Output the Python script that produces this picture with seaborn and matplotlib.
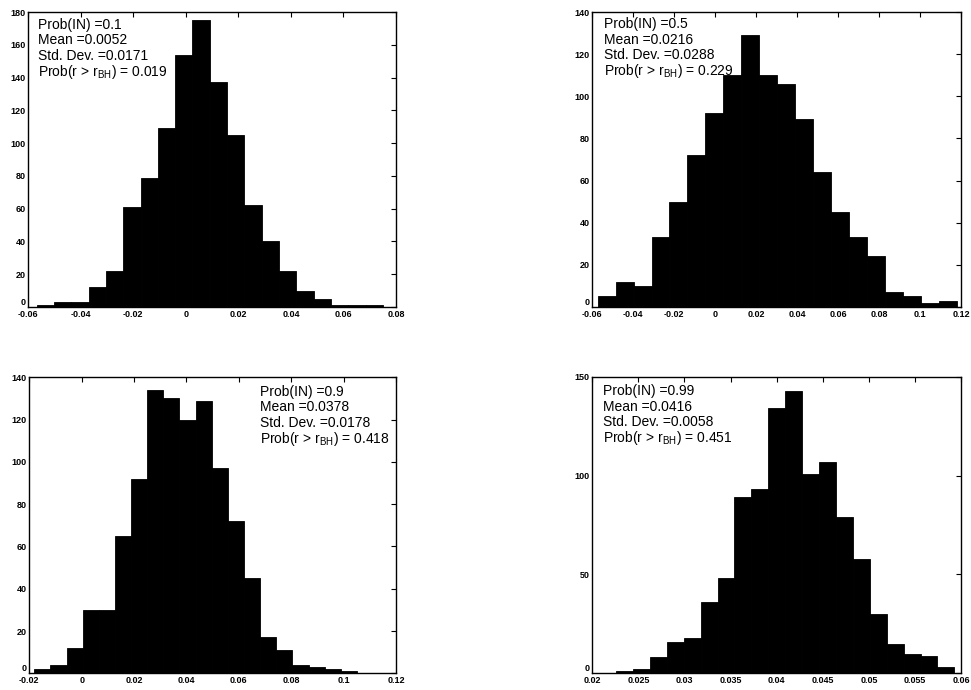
import numpy as np
import pandas as pd
import matplotlib
matplotlib.use("Agg")
import matplotlib.pyplot as plt
import matplotlib.transforms as mtransforms
import seaborn as sns

# Bootstrap distributions of r for four values of Prob(IN): 20 bins each
prob_in = ["0.1", "0.5", "0.9", "0.99"]
means = ["0.0052", "0.0216", "0.0378", "0.0416"]
std_devs = ["0.0171", "0.0288", "0.0178", "0.0058"]
prob_gt_bh = ["0.019", "0.229", "0.418", "0.451"]

# (first edge, last edge) of the histogram bins
bin_ranges = [
    (-0.0568, 0.0750),
    (-0.0574, 0.1180),
    (-0.0181, 0.1051),
    (0.02257, 0.05928),
]

counts_p01 = [1, 3, 3, 12, 22, 61, 79, 109, 154, 175,
              137, 105, 62, 40, 22, 10, 5, 1, 1, 1]
counts_p05 = [5, 12, 10, 33, 50, 72, 92, 110, 129, 110,
              106, 89, 64, 45, 33, 24, 7, 5, 2, 3]
counts_p09 = [2, 4, 12, 30, 30, 65, 92, 134, 130, 120,
              129, 97, 72, 45, 17, 11, 4, 3, 2, 1]
counts_p099 = [1, 2, 8, 16, 18, 36, 48, 89, 93, 134,
               143, 101, 107, 79, 58, 30, 15, 10, 9, 3]
all_counts = [counts_p01, counts_p05, counts_p09, counts_p099]

x_ticks = [
    [-0.06, -0.04, -0.02, 0, 0.02, 0.04, 0.06, 0.08],
    [-0.06, -0.04, -0.02, 0, 0.02, 0.04, 0.06, 0.08, 0.1, 0.12],
    [-0.02, 0, 0.02, 0.04, 0.06, 0.08, 0.1, 0.12],
    [0.02, 0.025, 0.03, 0.035, 0.04, 0.045, 0.05, 0.055, 0.06],
]
x_ticklabels = [
    ["-0.06", "-0.04", "-0.02", "0", "0.02", "0.04", "0.06", "0.08"],
    ["-0.06", "-0.04", "-0.02", "0", "0.02", "0.04", "0.06", "0.08", "0.1", "0.12"],
    ["-0.02", "0", "0.02", "0.04", "0.06", "0.08", "0.1", "0.12"],
    ["0.02", "0.025", "0.03", "0.035", "0.04", "0.045", "0.05", "0.055", "0.06"],
]
y_ticks = [
    [0, 20, 40, 60, 80, 100, 120, 140, 160, 180],
    [0, 20, 40, 60, 80, 100, 120, 140],
    [0, 20, 40, 60, 80, 100, 120, 140],
    [0, 50, 100, 150],
]

sns.set_theme(style="white")
plt.rcParams["font.family"] = ["Liberation Sans", "DejaVu Sans"]
plt.rcParams["mathtext.fontset"] = "custom"
plt.rcParams["mathtext.rm"] = "Liberation Sans"
plt.rcParams["mathtext.it"] = "Liberation Sans"

fig = plt.figure(figsize=(9.71, 6.90), dpi=100)
W, H = 971.0, 690.0
# axes boxes in pixels: left, top, right, bottom
boxes = [
    (28.3, 12.0, 396.0, 307.0),
    (592.3, 12.0, 961.0, 307.0),
    (29.3, 377.3, 396.0, 673.3),
    (592.3, 376.7, 961.0, 673.3),
]
# anchor of the first text line's baseline, in axes fractions
text_pos = [(0.027, 0.943), (0.032, 0.945), (0.629, 0.938), (0.029, 0.938)]
line_offsets_px = [0, 15.5, 31, 47]

for i in range(4):
    l, t, r, b = boxes[i]
    ax = fig.add_axes([l / W, 1 - b / H, (r - l) / W, (b - t) / H])
    lo, hi = bin_ranges[i]
    edges = np.linspace(lo, hi, len(all_counts[i]) + 1)
    df = pd.DataFrame({
        "r": 0.5 * (edges[:-1] + edges[1:]),
        "n": np.asarray(all_counts[i], dtype=float),
    })
    sns.histplot(data=df, x="r", weights="n", bins=list(edges), ax=ax,
                 color="black", alpha=1.0, edgecolor="black", linewidth=0.6)
    ax.set_xlim(x_ticks[i][0], x_ticks[i][-1])
    ax.set_ylim(y_ticks[i][0], y_ticks[i][-1])
    ax.set_xticks(x_ticks[i])
    ax.set_xticklabels(x_ticklabels[i])
    ax.set_yticks(y_ticks[i])
    ax.set_yticklabels([str(v) for v in y_ticks[i]])
    ax.set_xlabel("")
    ax.set_ylabel("")
    ax.tick_params(direction="in", top=True, right=True, length=3.5,
                   width=0.8, color="black", labelsize=6.5, pad=2,
                   labelcolor="black")
    for lab in ax.get_xticklabels() + ax.get_yticklabels():
        lab.set_fontweight("bold")
    # keep the zero count label above the x tick labels at the corner
    ax.get_yticklabels()[0].set_verticalalignment("bottom")
    for sp in ax.spines.values():
        sp.set_color("black")
        sp.set_linewidth(1.0)

    lines = [f"Prob(IN) ={prob_in[i]}",
             f"Mean ={means[i]}",
             f"Std. Dev. ={std_devs[i]}",
             f"Prob(r > r$_{{\\mathrm{{BH}}}}$) = {prob_gt_bh[i]}"]
    tx, ty = text_pos[i]
    for line, off in zip(lines, line_offsets_px):
        trans = mtransforms.offset_copy(ax.transAxes, fig=fig, x=0, y=-off,
                                        units="dots")
        ax.text(tx, ty, line, transform=trans, ha="left", va="baseline",
                fontsize=10, color="black")

fig.savefig("out.png", dpi=100)
